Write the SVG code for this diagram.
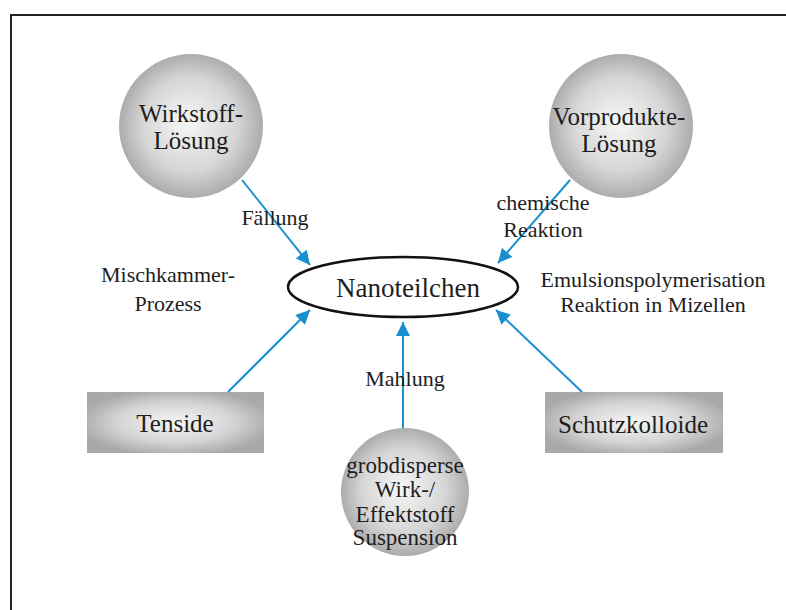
<svg xmlns="http://www.w3.org/2000/svg" width="786" height="610" viewBox="0 0 786 610">
  <defs>
    <radialGradient id="gCircle" cx="0.5" cy="0.5" r="0.5" fx="0.47" fy="0.47">
      <stop offset="0" stop-color="#f7f7f7"/>
      <stop offset="0.65" stop-color="#d6d6d6"/>
      <stop offset="1" stop-color="#acacac"/>
    </radialGradient>
    <radialGradient id="gRect" cx="0.5" cy="0.5" r="0.55">
      <stop offset="0" stop-color="#f6f6f6"/>
      <stop offset="0.6" stop-color="#d4d4d4"/>
      <stop offset="1" stop-color="#a9a9a9"/>
    </radialGradient>
    <marker id="arr" viewBox="0 0 10 10" refX="10" refY="5" markerWidth="8" markerHeight="7" markerUnits="strokeWidth" orient="auto">
      <path d="M0,0 L10,5 L0,10 z" fill="#1a8fd0"/>
    </marker>
    <style>
      text { font-family: "Liberation Serif", "Times New Roman", serif; fill: #1e1e1e; text-anchor: middle; }
      .node { font-size: 25px; }
      .small { font-size: 23px; }
      .lbl { font-size: 22px; }
      .conn { stroke: #1a8fd0; stroke-width: 2; fill: none; marker-end: url(#arr); }
    </style>
  </defs>
  <rect x="0" y="0" width="786" height="610" fill="#ffffff"/>
  <path d="M11,610 V15 H786" fill="none" stroke="#222" stroke-width="2"/>

  <g id="connectors">
    <line class="conn" x1="242" y1="180" x2="310" y2="265"/>
    <line class="conn" x1="570" y1="180" x2="498" y2="263"/>
    <line class="conn" x1="228" y1="392" x2="310" y2="310"/>
    <line class="conn" x1="582" y1="392" x2="496" y2="310"/>
    <line class="conn" x1="403" y1="428" x2="403" y2="322"/>
  </g>

  <g id="wirkstoff">
    <circle cx="191" cy="126" r="72" fill="url(#gCircle)"/>
    <text class="node" x="191" y="122">Wirkstoff-</text>
    <text class="node" x="191" y="149">Lösung</text>
  </g>

  <g id="vorprodukte">
    <circle cx="621" cy="126" r="72" fill="url(#gCircle)"/>
    <text class="node" x="619" y="125">Vorprodukte-</text>
    <text class="node" x="619" y="152">Lösung</text>
  </g>

  <g id="nanoteilchen">
    <ellipse cx="403" cy="287" rx="115" ry="30" fill="#ffffff" stroke="#111" stroke-width="2.5"/>
    <text x="408" y="297" font-size="27">Nanoteilchen</text>
  </g>

  <g id="tenside">
    <rect x="87" y="392" width="177" height="61" fill="url(#gRect)"/>
    <text class="node" x="175" y="432">Tenside</text>
  </g>

  <g id="schutzkolloide">
    <rect x="545" y="392" width="178" height="61" fill="url(#gRect)"/>
    <text class="node" x="633" y="433">Schutzkolloide</text>
  </g>

  <g id="suspension">
    <circle cx="405" cy="492" r="64" fill="url(#gCircle)"/>
    <text class="small" x="405" y="473">grobdisperse</text>
    <text class="small" x="405" y="497">Wirk-/</text>
    <text class="small" x="405" y="522">Effektstoff</text>
    <text class="small" x="405" y="545">Suspension</text>
  </g>

  <g id="labels">
    <text class="lbl" x="275" y="225">Fällung</text>
    <text class="lbl" x="543" y="210">chemische</text>
    <text class="lbl" x="543" y="237">Reaktion</text>
    <text class="lbl" x="168" y="282">Mischkammer-</text>
    <text class="lbl" x="168" y="311">Prozess</text>
    <text class="lbl" x="653" y="287">Emulsionspolymerisation</text>
    <text class="lbl" x="653" y="312">Reaktion in Mizellen</text>
    <text class="lbl" x="405" y="386">Mahlung</text>
  </g>
</svg>
